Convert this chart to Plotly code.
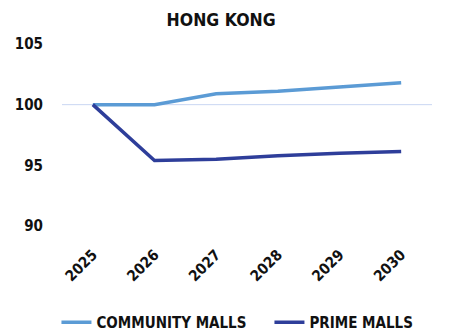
import plotly.graph_objects as go

years = ["2025", "2026", "2027", "2028", "2029", "2030"]
community_malls = [100.0, 100.0, 100.9, 101.1, 101.45, 101.8]
prime_malls = [100.0, 95.4, 95.5, 95.8, 96.0, 96.15]
y_ticks = [90, 95, 100, 105]
baseline = 100

FONT = "DejaVu Sans Condensed, Liberation Sans Narrow, Arial Narrow, sans-serif"

fig = go.Figure()
fig.add_trace(go.Scatter(x=years, y=community_malls, mode="lines", name="COMMUNITY MALLS",
                         line=dict(color="#5B9BD5", width=3.5)))
fig.add_trace(go.Scatter(x=years, y=prime_malls, mode="lines", name="PRIME MALLS",
                         line=dict(color="#2E3E9A", width=3.5)))
fig.add_shape(type="line", xref="paper", x0=0, x1=1, yref="y", y0=baseline, y1=baseline,
              line=dict(color="#C9D6F2", width=1), layer="below")

fig.update_layout(
    width=444, height=326,
    margin=dict(l=54, r=20, t=36, b=108, autoexpand=False),
    paper_bgcolor="white", plot_bgcolor="white",
    title=dict(text="HONG KONG", x=0.48, xanchor="center", y=0.963, yanchor="middle",
               font=dict(family=FONT, size=17.5, color="#111", weight="bold")),
    font=dict(family=FONT, color="#111"),
    xaxis=dict(type="category", range=[-0.5, 5.5], showgrid=False, zeroline=False, showline=False,
               tickangle=-45, tickfont=dict(size=15, family=FONT, color="#111", weight="bold"),
               ticks="", automargin=False, ticklabelstandoff=16),
    yaxis=dict(range=[90, 105], tickvals=y_ticks, showgrid=False, zeroline=False, showline=False,
               tickfont=dict(size=15, family=FONT, color="#111", weight="bold"),
               ticks="", ticklabelstandoff=18, automargin=False),
    legend=dict(orientation="h", x=-0.015, xanchor="left", y=-0.53, yanchor="middle",
                font=dict(size=15, family=FONT, color="#111", weight="bold"),
                traceorder="normal", entrywidth=168, entrywidthmode="pixels"),
    showlegend=True,
)

fig.write_html("out.html")
